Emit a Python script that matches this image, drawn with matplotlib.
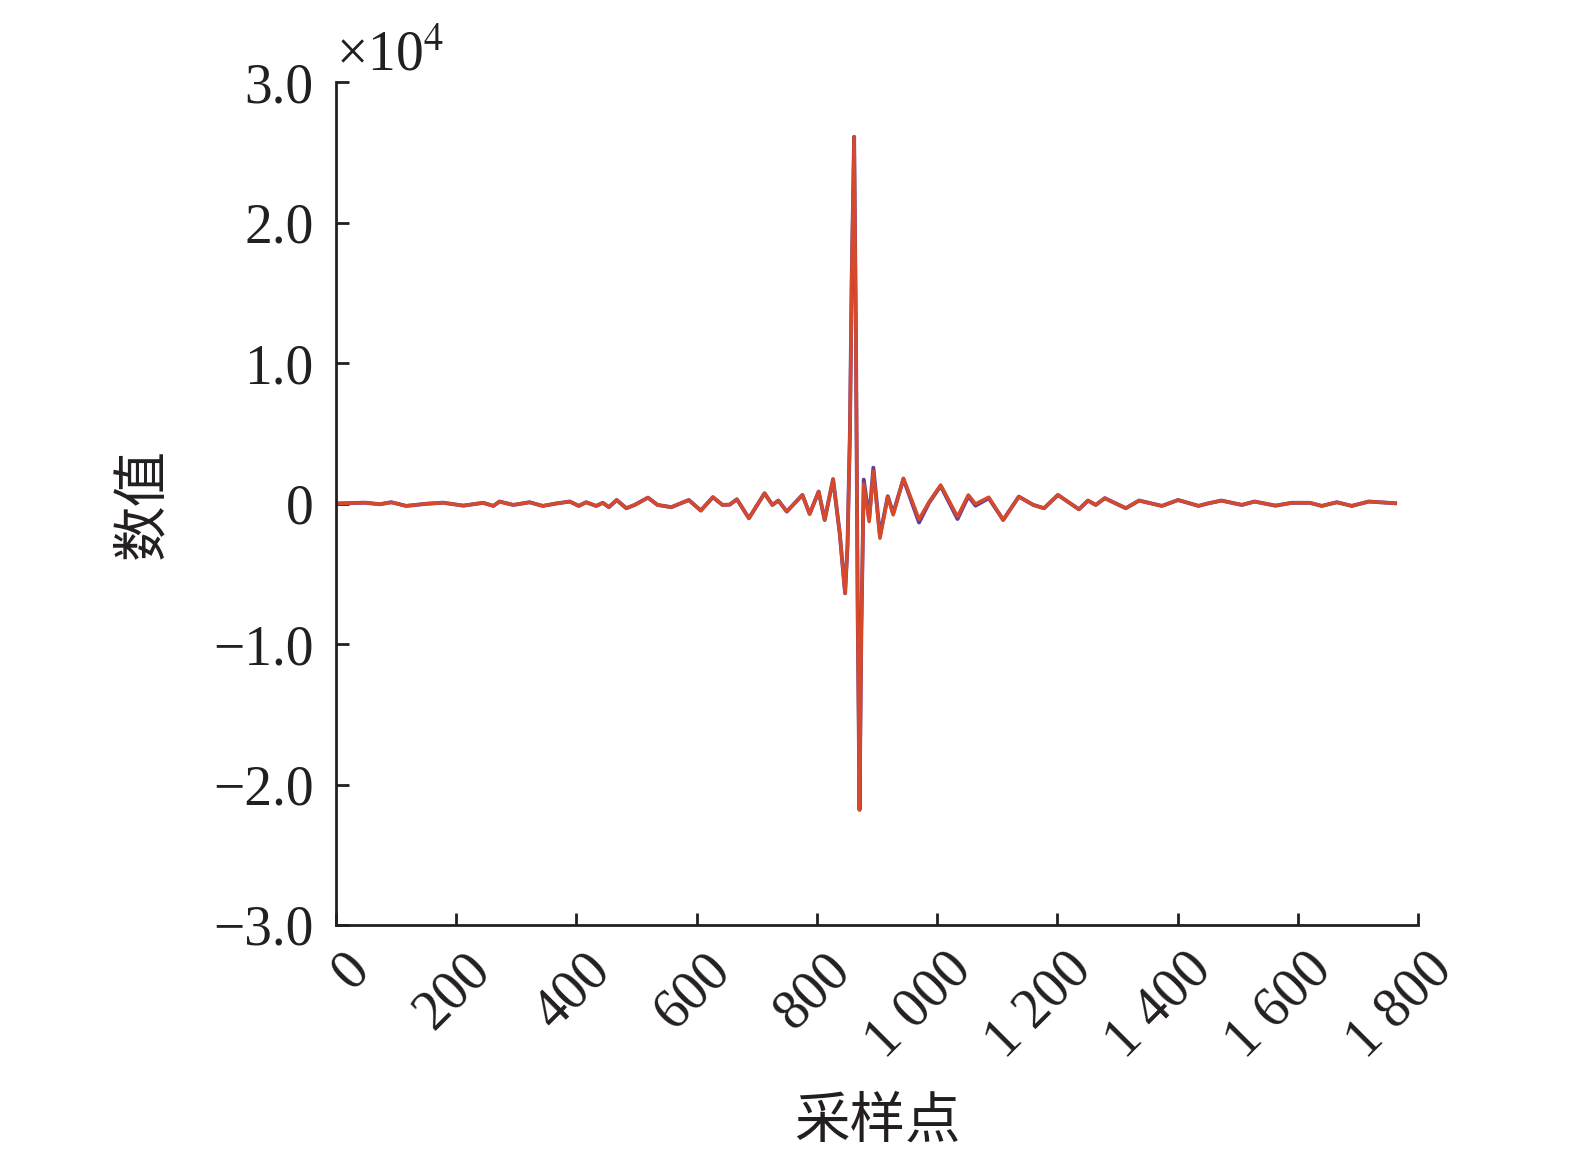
import matplotlib
matplotlib.use("Agg")
import matplotlib.pyplot as plt
from matplotlib.transforms import ScaledTranslation

plt.rcParams['font.family'] = ['Liberation Serif', 'DejaVu Serif']
plt.rcParams['mathtext.fontset'] = 'stix'

# sample index and values
samples = [0, 48, 73, 92, 117, 150, 178, 212, 245, 262, 272, 295, 322, 344, 366,
           389, 404, 416, 433, 444, 454, 467, 483, 497, 519, 535, 558, 587, 607,
           627, 643, 655, 667, 687, 713, 726, 736, 750, 776, 788, 803, 813, 827,
           838, 847, 851, 855, 858, 862, 865, 868, 871, 874, 878, 887, 894, 905,
           918, 927, 944, 970, 987, 1006, 1034, 1052, 1064, 1086, 1110, 1136,
           1160, 1178, 1201, 1236, 1251, 1264, 1279, 1314, 1336, 1374, 1401,
           1435, 1450, 1473, 1507, 1528, 1563, 1590, 1620, 1640, 1665, 1690,
           1718, 1762]

red_vals = [0, 60, -50, 90, -170, -20, 60, -150, 50, -170, 140, -100, 90, -170, 0,
            140, -170, 90, -170, 50, -260, 250, -335, -100, 420, -100, -260, 250, -500,
            450, -100, -80, 300, -1050, 730, -100, 210, -570, 610, -740, 850, -1170, 1730,
            -2100, -6390, -3000, 5000, 16000, 26100, 12000, -8000, -21800, -9000, 1400,
            -1290, 2300, -2470,
            490, -810, 1800, -1120, 140, 1320, -930, 610, -30, 450, -1170, 490,
            -100, -335, 610, -410, 210, -100, 380, -335, 210, -170, 250,
            -170, 0, 210, -100, 140, -150, 50, 50, -170, 90, -170,
            140, 20]

blue_vals = [0, 60, -50, 90, -170, -20, 60, -150, 50, -170, 140, -100, 90, -170, 0,
             140, -170, 90, -170, 50, -260, 250, -335, -100, 420, -100, -260, 250, -500,
             450, -100, -80, 300, -1050, 730, -100, 210, -570, 610, -740, 850, -1170, 1730,
             -2100, -6390, -3000, 5000, 16000, 26100, 12000, -8000, -21800, -9000, 1700,
             -1100, 2550, -2300,
             520, -700, 1750, -1350, 80, 1250, -1100, 520, -150, 380, -1170, 490,
             -100, -335, 610, -410, 210, -100, 380, -335, 210, -170, 250,
             -170, 0, 210, -100, 140, -150, 50, 50, -170, 90, -170,
             140, 20]

x_ticks = [0, 200, 400, 600, 800, 1000, 1200, 1400, 1600, 1800]
x_tick_labels = ['0', '200', '400', '600', '800', '1 000', '1 200', '1 400', '1 600', '1 800']
y_ticks = [-30000, -20000, -10000, 0, 10000, 20000, 30000]
y_tick_labels = ['\u22123.0', '\u22122.0', '\u22121.0', '0', '1.0', '2.0', '3.0']

fig = plt.figure(figsize=(15.75, 11.59), dpi=100)
ax = fig.add_axes([0.2133, 0.2019, 0.6870, 0.7273])

ax.plot(samples, blue_vals, color='#5b3f9e', linewidth=2.8, solid_joinstyle='round')
ax.plot(samples, red_vals, color='#d64a2b', linewidth=2.5, solid_joinstyle='round')

ax.set_xlim(0, 1800)
ax.set_ylim(-30000, 30000)
ax.spines['top'].set_visible(False)
ax.spines['right'].set_visible(False)
for sp in ['left', 'bottom']:
    ax.spines[sp].set_linewidth(2.0)
    ax.spines[sp].set_color('#231f20')

ax.set_xticks(x_ticks)
ax.set_xticklabels(x_tick_labels, rotation=45, ha='right', va='top')
ax.set_yticks(y_ticks)
ax.set_yticklabels(y_tick_labels)
ax.tick_params(direction='in', length=9, width=2.0, colors='#231f20', labelsize=40)
ax.tick_params(axis='x', pad=13)
ax.tick_params(axis='y', pad=16)

# shift rotated labels to the right, like the original
offset = ScaledTranslation(44 / 100, 0, fig.dpi_scale_trans)
for lab in ax.get_xticklabels():
    lab.set_transform(lab.get_transform() + offset)

ax.text(0.0, 1.0, '\u00d710$^{4}$', transform=ax.transAxes, fontsize=40,
        ha='left', va='bottom', color='#231f20')

ax.set_ylabel('数值', family=['Noto Sans CJK SC', 'DejaVu Sans'], fontsize=40,
              labelpad=30, color='#231f20')
ax.set_xlabel('采样点', family=['Noto Sans CJK SC', 'DejaVu Sans'], fontsize=40,
              labelpad=18, color='#231f20')

fig.savefig('out.png', dpi=100)
